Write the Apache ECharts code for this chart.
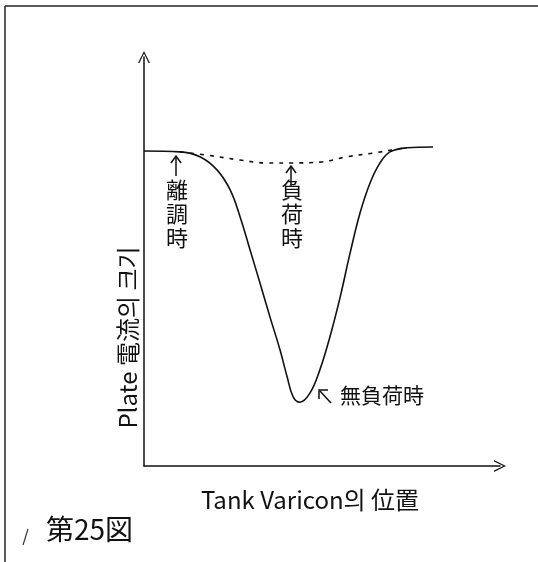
<!DOCTYPE html>
<html>
<head>
<meta charset="utf-8">
<script src="https://cdn.jsdelivr.net/npm/echarts@6/dist/echarts.min.js"></script>
<style>
html, body { margin: 0; padding: 0; background: #fff; }
#main { width: 538px; height: 562px; }
</style>
</head>
<body>
<div id="main"></div>
<script>
// 무부하시 (solid) — x: Tank Varicon 위치, y: Plate 전류
var noLoadX = [0, 10.1, 15.7, 20.5, 24.2, 27.0, 29.8, 32.6, 35.4, 38.2, 40.2, 41.9, 43.8, 46.6, 49.4, 52.2, 55.1, 57.9, 60.7, 63.5, 66.3, 69.1, 73.9, 81.2];
var noLoadY = [77.0, 76.8, 75.6, 72.4, 67.5, 60.9, 52.8, 44.7, 36.4, 28.4, 21.8, 16.9, 15.6, 17.8, 23.5, 31.5, 41.3, 52.1, 61.9, 69.2, 74.1, 76.8, 77.8, 78.0];
// 부하시 (dashed)
var loadX = [10.1, 17.7, 27.0, 34.6, 41.9, 49.4, 57.0, 64.3, 69.9, 73.9];
var loadY = [76.8, 76.0, 74.8, 74.1, 74.1, 74.3, 75.6, 76.5, 77.3, 77.8];

var yName = 'Plate 電流의 크기';
var xName = 'Tank Varicon의 位置';
var figName = '第25図';

function pairs(xs, ys) {
	return xs.map(function(x, i) { return [x, ys[i]]; });
}

var chart = echarts.init(document.getElementById('main'));
var font = '"Noto Sans CJK KR", "Noto Sans CJK JP", sans-serif';
// open arrow head
var arrow = 'path://M0,12 L6,0 L12,12 L10.6,12 L6,2.6 L1.4,12 Z';

var option = {
	backgroundColor: '#fff',
	animation: false,
	grid: {
		left: 144,
		right: 38,
		top: 57,
		bottom: 96
	},
	xAxis: {
		type: 'value',
		min: 0,
		max: 100,
		axisLine: {
			show: true,
			symbol: ['none', arrow],
			symbolSize: [12, 14],
			lineStyle: { color: '#111', width: 1.5 }
		},
		axisTick: { show: false },
		axisLabel: { show: false },
		splitLine: { show: false },
		name: xName,
		nameLocation: 'middle',
		nameGap: 22,
		nameTextStyle: { fontFamily: font, fontSize: 24, color: '#111', padding: [0, 24, 0, 0] }
	},
	yAxis: {
		type: 'value',
		min: 0,
		max: 100,
		axisLine: {
			show: true,
			symbol: ['none', arrow],
			symbolSize: [12, 14],
			lineStyle: { color: '#111', width: 1.5 }
		},
		axisTick: { show: false },
		axisLabel: { show: false },
		splitLine: { show: false },
		name: yName,
		nameLocation: 'middle',
		nameGap: 4,
		nameRotate: 90,
		nameTextStyle: { fontFamily: font, fontSize: 24, color: '#111', padding: [0, 152, 0, 0] }
	},
	series: [{
		name: '無負荷時',
		type: 'line',
		smooth: 0.4,
		showSymbol: false,
		lineStyle: { color: '#111', width: 1.6 },
		data: pairs(noLoadX, noLoadY)
	}, {
		name: '負荷時',
		type: 'line',
		smooth: 0.4,
		showSymbol: false,
		lineStyle: { color: '#111', width: 1.6, type: [4, 6] },
		data: pairs(loadX, loadY)
	}],
	graphic: [
		// frame of the scanned sheet
		{ type: 'line', shape: { x1: 5, y1: 6, x2: 538, y2: 6 }, style: { stroke: '#222', lineWidth: 1.5 } },
		{ type: 'line', shape: { x1: 5, y1: 6, x2: 5, y2: 562 }, style: { stroke: '#222', lineWidth: 1.5 } },
		// 離調時
		{ type: 'line', shape: { x1: 176, y1: 157, x2: 176, y2: 176 }, style: { stroke: '#111', lineWidth: 1.5 } },
		{ type: 'polyline', shape: { points: [[171, 163], [176, 156], [181, 163]] }, style: { stroke: '#111', fill: null, lineWidth: 1.5 } },
		{ type: 'text', left: 166, top: 178, style: { text: '離\n調\n時', fontFamily: font, fontSize: 22, lineHeight: 24, fill: '#111' } },
		// 負荷時
		{ type: 'line', shape: { x1: 291, y1: 167, x2: 291, y2: 186 }, style: { stroke: '#111', lineWidth: 1.5 } },
		{ type: 'polyline', shape: { points: [[286, 173], [291, 166], [296, 173]] }, style: { stroke: '#111', fill: null, lineWidth: 1.5 } },
		{ type: 'text', left: 281, top: 178, style: { text: '負\n荷\n時', fontFamily: font, fontSize: 22, lineHeight: 24, fill: '#111' } },
		// 無負荷時
		{ type: 'line', shape: { x1: 320, y1: 391, x2: 331, y2: 403 }, style: { stroke: '#111', lineWidth: 1.5 } },
		{ type: 'polyline', shape: { points: [[319, 399], [319, 390], [328, 390]] }, style: { stroke: '#111', fill: null, lineWidth: 1.5 } },
		{ type: 'text', left: 340, top: 385, style: { text: '無負荷時', fontFamily: font, fontSize: 21, fill: '#111' } },
		// figure caption
		{ type: 'line', shape: { x1: 28, y1: 529, x2: 23, y2: 545 }, style: { stroke: '#333', lineWidth: 1.2 } },
		{ type: 'text', left: 46, top: 515, style: { text: figName, fontFamily: font, fontSize: 28, fill: '#111' } }
	]
};
chart.setOption(option);
</script>
</body>
</html>
